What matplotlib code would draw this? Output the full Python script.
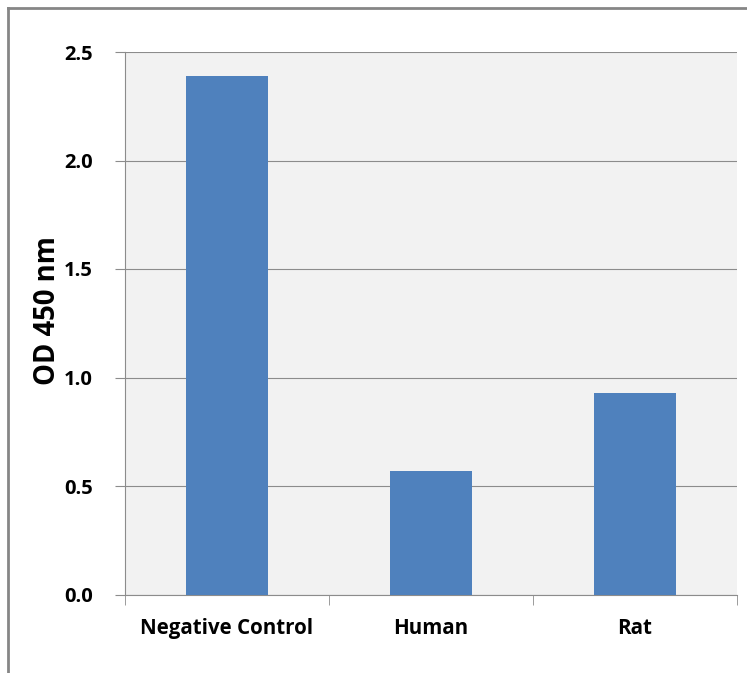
import matplotlib.pyplot as plt

# data
categories = ["Negative Control", "Human", "Rat"]
od_values = [2.39, 0.57, 0.93]
y_ticks = [0.0, 0.5, 1.0, 1.5, 2.0, 2.5]

plt.rcParams['font.family'] = ['Open Sans', 'DejaVu Sans']

fig = plt.figure(figsize=(7.47, 6.73), dpi=100)
W, H = 747, 673
ax = fig.add_axes([125 / W, 1 - 594.5 / H, (737 - 125) / W, (594.5 - 52) / H])

# outer chart border (cropped at right and bottom)
fig.add_artist(plt.Line2D([8 / W, 8 / W], [0, 1 - 8 / H], transform=fig.transFigure,
                          color='#868686', lw=2))
fig.add_artist(plt.Line2D([8 / W, 1], [1 - 8 / H, 1 - 8 / H], transform=fig.transFigure,
                          color='#868686', lw=2))

ax.set_facecolor('#F2F2F2')
x = range(len(categories))
ax.bar(x, od_values, width=0.4, color='#4F81BD', zorder=3)

ax.set_xlim(-0.5, len(categories) - 0.5)
ax.set_ylim(0, 2.5)
ax.set_yticks(y_ticks)
ax.set_yticklabels([f"{v:.1f}" for v in y_ticks], fontsize=14.5, fontweight='bold')
ax.yaxis.grid(True, color='#8C8C8C', lw=0.8, zorder=0)

ax.set_xticks(list(x))
ax.set_xticklabels(categories, fontsize=14.8, fontweight='bold')
ax.tick_params(axis='x', length=0, pad=17)
ax.set_xticks([-0.5, 0.5, 1.5, 2.5], minor=True)
ax.tick_params(axis='x', which='minor', length=7, color='#8C8C8C', direction='out')
ax.tick_params(axis='y', length=7, color='#8C8C8C', pad=16)

for s in ['top', 'right']:
    ax.spines[s].set_visible(False)
for s in ['left', 'bottom']:
    ax.spines[s].set_color('#8C8C8C')

ax.set_ylabel("OD 450 nm", fontsize=19.8, fontweight='bold')
ax.yaxis.set_label_coords(-0.126, 0.524)
ax.yaxis.label.set_verticalalignment('center')

fig.savefig("out.png", dpi=100)
